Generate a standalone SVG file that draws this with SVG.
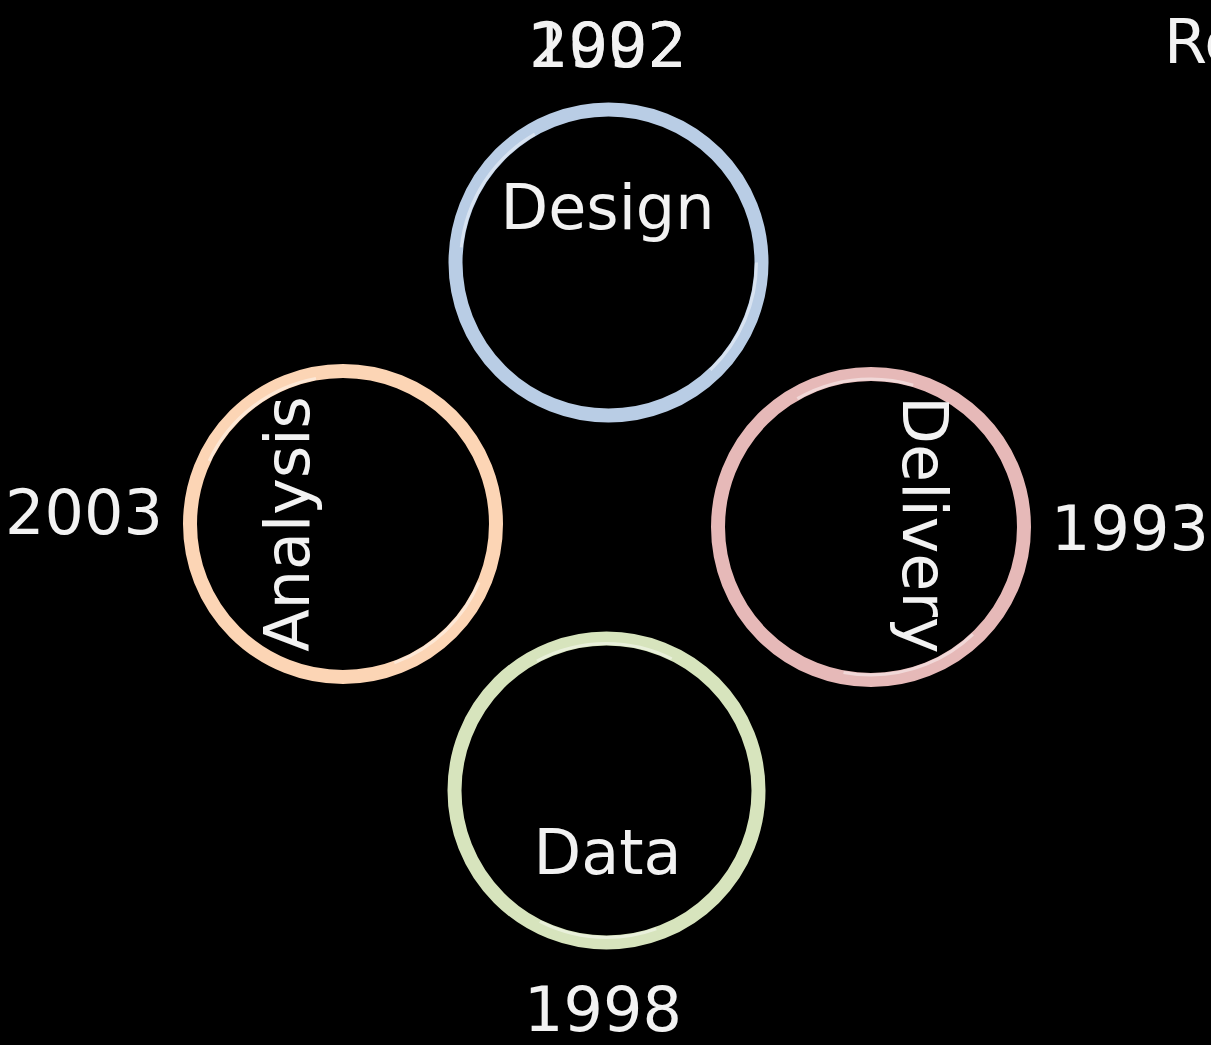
<svg xmlns="http://www.w3.org/2000/svg" width="1211" height="1045" viewBox="0 0 1211 1045">
<style>
.bg{fill:#000}
.ring{fill:none;stroke-width:14}
.hl{fill:none;stroke:#ffffff;stroke-width:3;stroke-opacity:0.45}
.t{font-family:"DejaVu Sans","Verdana",sans-serif;font-size:62px;fill:#f2f2f2}
.m{text-anchor:middle}
</style>
<rect class="bg" x="0" y="0" width="1211" height="1045"/>
<g id="connectors"/>
<g id="node-design">
<circle class="ring" cx="608.5" cy="262.5" r="153" stroke="#b9cde5"/>
<circle class="hl" cx="608.5" cy="262.5" r="148" stroke-dasharray="120 360 140 400"/>
<text class="t m" x="607.5" y="229">Design</text>
</g>
<g id="node-delivery">
<circle class="ring" cx="871" cy="527" r="153" stroke="#e6b9b8"/>
<circle class="hl" cx="871" cy="527" r="148" stroke-dasharray="0 120 140 360 120 400"/>
<text class="t m" transform="translate(903,525) rotate(90)" x="0" y="0">Delivery</text>
</g>
<g id="node-analysis">
<circle class="ring" cx="343" cy="524" r="153" stroke="#fcd5b5"/>
<circle class="hl" cx="343" cy="524" r="148" stroke-dasharray="0 60 120 350 140 400"/>
<text class="t m" transform="translate(309,524) rotate(-90)" x="0" y="0">Analysis</text>
</g>
<g id="node-data">
<circle class="ring" cx="606.5" cy="790.5" r="152" stroke="#d7e4bd"/>
<circle class="hl" cx="606.5" cy="790.5" r="147" stroke-dasharray="0 180 120 320 140 400"/>
<text class="t m" x="607.5" y="874">Data</text>
</g>
<g id="labels">
<text class="t m" x="608" y="67">1992</text>
<text class="t m" x="608" y="67">2002</text>
<text class="t" x="1164" y="63">Re</text>
<text class="t m" x="1130" y="550">1993</text>
<text class="t m" x="84" y="534">2003</text>
<text class="t m" x="603" y="1031">1998</text>
</g>
</svg>
